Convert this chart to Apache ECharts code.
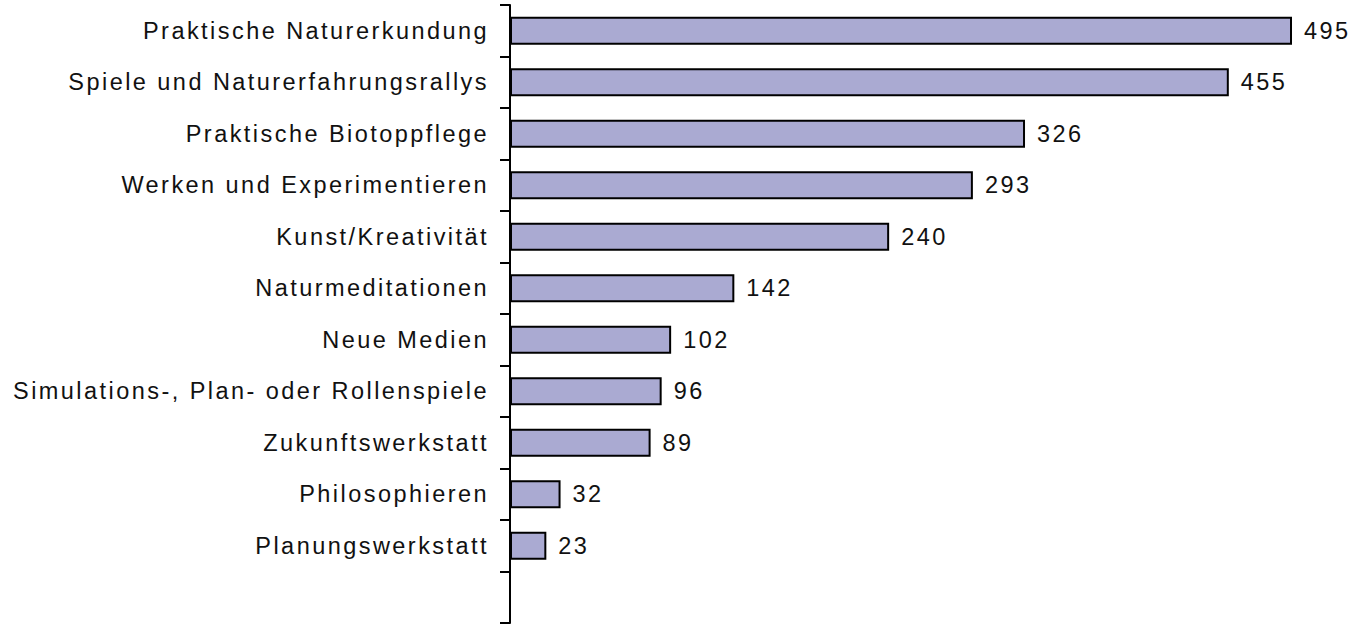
<!DOCTYPE html>
<html>
<head>
<meta charset="utf-8">
<script src="https://cdn.jsdelivr.net/npm/echarts@6/dist/echarts.min.js"></script>
<style>
  html, body { margin: 0; padding: 0; background: #ffffff; }
  #chart { width: 1357px; height: 624px; }
  #chart svg text { letter-spacing: 2.45px; }
</style>
</head>
<body>
<div id="chart"></div>
<script>
const categories = [
  "Praktische Naturerkundung",
  "Spiele und Naturerfahrungsrallys",
  "Praktische Biotoppflege",
  "Werken und Experimentieren",
  "Kunst/Kreativität",
  "Naturmeditationen",
  "Neue Medien",
  "Simulations-, Plan- oder Rollenspiele",
  "Zukunftswerkstatt",
  "Philosophieren",
  "Planungswerkstatt",
  ""
];
const values = [495, 455, 326, 293, 240, 142, 102, 96, 89, 32, 23, null];

const chart = echarts.init(document.getElementById('chart'), null, { renderer: 'svg' });
chart.setOption({
  animation: false,
  backgroundColor: '#ffffff',
  grid: { left: 510, right: 25.5, top: 5, height: 618, containLabel: false },
  xAxis: {
    type: 'value', min: 0, max: 520, show: false
  },
  yAxis: {
    type: 'category',
    data: categories,
    inverse: true,
    boundaryGap: true,
    axisLine: { show: true, lineStyle: { color: '#000000', width: 2 } },
    axisTick: { show: true, length: 10, lineStyle: { color: '#000000', width: 2 } },
    axisLabel: {
      margin: 21,
      fontFamily: '"Liberation Sans", Arial, sans-serif',
      fontSize: 23.5,
      color: '#111111'
    },
    splitLine: { show: false }
  },
  series: [{
    type: 'bar',
    data: values,
    barWidth: '54%',
    itemStyle: { color: '#aaaad2', borderColor: '#000000', borderWidth: 2 },
    label: {
      show: true,
      position: 'right',
      distance: 12,
      fontFamily: '"Liberation Sans", Arial, sans-serif',
      fontSize: 23.5,
      color: '#111111'
    }
  }]
});
</script>
</body>
</html>
